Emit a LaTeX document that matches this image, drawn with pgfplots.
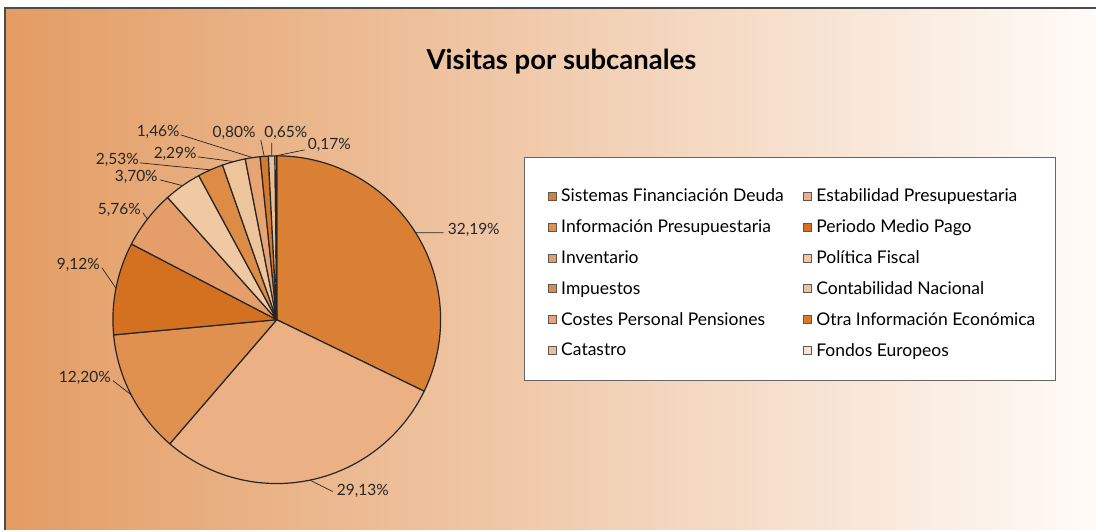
\documentclass[border=0pt]{standalone}
\usepackage{fontspec}
\setmainfont{Lato}
\usepackage{pgfplots}
\usepackage{pgfplotstable}
\pgfplotsset{compat=1.18}

% slice fills
\definecolor{s0}{RGB}{217,128,53}
\definecolor{s1}{RGB}{235,177,132}
\definecolor{s2}{RGB}{224,145,80}
\definecolor{s3}{RGB}{212,113,32}
\definecolor{s4}{RGB}{229,158,105}
\definecolor{s5}{RGB}{240,200,162}
\definecolor{s6}{RGB}{221,140,70}
\definecolor{s7}{RGB}{238,196,155}
\definecolor{s8}{RGB}{232,165,115}
\definecolor{s9}{RGB}{215,122,45}
\definecolor{s10}{RGB}{236,190,148}
\definecolor{s11}{RGB}{246,226,206}
% panel background
\definecolor{bgL}{RGB}{227,156,99}
\definecolor{bgM}{RGB}{238,196,156}
\definecolor{bgR}{RGB}{254,251,248}

\newcommand\titlefont{\fontsize{27.5bp}{30bp}\selectfont\bfseries}
\newcommand\legfont{\fontsize{17.5bp}{20bp}\selectfont}
\newcommand\pctfont{\fontsize{15.5bp}{18bp}\selectfont}

% share of visits per sub-channel, with the leader end and label position
\pgfplotstableread{
val    lex  ley  lx   ly   anc
32.19  444  297  447  300  west
29.13  333  38   336  39   west
12.20  113  149  112  152  east
9.12   102  262  101  265  east
5.76   143  317  142  320  east
3.70   160  350  159  353  east
2.53   140  367  140  370  east
2.29   198  373  198  376  east
1.46   181  395  181  398  east
0.80   261  390  257  397  east
0.65   272  387  286  397  center
0.17   305  380  307  385  west
}\slices

\begin{document}
\begin{tikzpicture}
\begin{axis}[
  width=1097bp, height=530bp, scale only axis,
  xmin=0, xmax=1097, ymin=0, ymax=530,
  enlargelimits=false, axis lines=none, clip=false,
  sqr legend/.style={legend image code/.code={%
    \filldraw[##1, draw=black!65, line width=0.6bp] (0bp,-4bp) rectangle (8bp,4bp);}},
  legend columns=2,
  legend cell align=left,
  legend style={at={(axis description cs:0.4995,0.4840)}, anchor=west,
    draw=none, fill=none, inner sep=0pt, font=\legfont,
    row sep=12.5bp,
    /tikz/every odd column/.append style={column sep=3bp},
    /tikz/every even column/.append style={column sep=17bp}},
]
\path (axis cs:0,0) rectangle (axis cs:1097,530);
% panel
\fill[left color=bgL, middle color=bgM, right color=bgR]
  (axis cs:5,0) rectangle (axis cs:1097,522);
\draw[black!70, line width=2bp] (axis cs:5,0) -- (axis cs:5,522) -- (axis cs:1097,522);
\node[font=\titlefont] at (axis cs:562,468) {Visitas por subcanales};
% legend frame
\filldraw[fill=white, draw=black!60, line width=0.8bp]
  (axis cs:525,149) rectangle (axis cs:1056,372);

% pie slices, clockwise from twelve o'clock
\def\cum{0}
\pgfplotsforeachungrouped \i in {0,...,11}{%
  \pgfplotstablegetelem{\i}{val}\of\slices \let\v\pgfplotsretval
  \pgfmathsetmacro\aA{90-3.6*\cum}
  \pgfmathsetmacro\aB{90-3.6*(\cum+\v)}
  \pgfmathsetmacro\xA{277+164*cos(\aA)}
  \pgfmathsetmacro\yA{210+164*sin(\aA)}
  \pgfmathsetmacro\cum{\cum+\v}
  \edef\slice{\noexpand\filldraw[fill=s\i, draw=black!85, line width=1.2bp, line join=round]
    (axis cs:277,210) -- (axis cs:\xA,\yA) arc[start angle=\aA, end angle=\aB, radius=164bp] -- cycle;}
  \slice
}
% value labels with leaders
\def\cum{0}
\pgfplotsforeachungrouped \i in {0,...,11}{%
  \pgfplotstablegetelem{\i}{val}\of\slices \let\v\pgfplotsretval
  \pgfplotstablegetelem{\i}{lex}\of\slices \let\lex\pgfplotsretval
  \pgfplotstablegetelem{\i}{ley}\of\slices \let\ley\pgfplotsretval
  \pgfplotstablegetelem{\i}{lx}\of\slices \let\lx\pgfplotsretval
  \pgfplotstablegetelem{\i}{ly}\of\slices \let\ly\pgfplotsretval
  \pgfplotstablegetelem{\i}{anc}\of\slices \let\anc\pgfplotsretval
  \pgfmathsetmacro\aM{90-3.6*(\cum+\v/2)}
  \pgfmathsetmacro\xM{277+164*cos(\aM)}
  \pgfmathsetmacro\yM{210+164*sin(\aM)}
  \pgfmathsetmacro\cum{\cum+\v}
  \edef\lead{\noexpand\draw[black!85, line width=0.7bp] (axis cs:\xM,\yM) -- (axis cs:\lex,\ley);
    \noexpand\node[anchor=\anc, inner sep=1bp, font=\noexpand\pctfont, text=black!85] at (axis cs:\lx,\ly)
      {\noexpand\pgfmathprintnumber[fixed, fixed zerofill, precision=2, use comma, assume math mode=true]{\v}\noexpand\%};}
  \lead
}

\addlegendimage{sqr legend, fill=s0}  \addlegendentry{Sistemas Financiación Deuda}
\addlegendimage{sqr legend, fill=s1}  \addlegendentry{Estabilidad Presupuestaria}
\addlegendimage{sqr legend, fill=s2}  \addlegendentry{Información Presupuestaria}
\addlegendimage{sqr legend, fill=s3}  \addlegendentry{Periodo Medio Pago}
\addlegendimage{sqr legend, fill=s4}  \addlegendentry{Inventario}
\addlegendimage{sqr legend, fill=s5}  \addlegendentry{Política Fiscal}
\addlegendimage{sqr legend, fill=s6}  \addlegendentry{Impuestos}
\addlegendimage{sqr legend, fill=s7}  \addlegendentry{Contabilidad Nacional}
\addlegendimage{sqr legend, fill=s8}  \addlegendentry{Costes Personal Pensiones}
\addlegendimage{sqr legend, fill=s9}  \addlegendentry{Otra Información Económica}
\addlegendimage{sqr legend, fill=s10} \addlegendentry{Catastro}
\addlegendimage{sqr legend, fill=s11} \addlegendentry{Fondos Europeos}
\end{axis}
\end{tikzpicture}
\end{document}
